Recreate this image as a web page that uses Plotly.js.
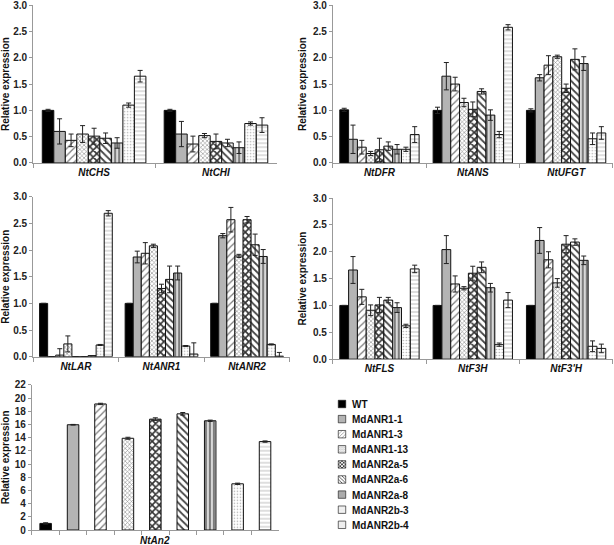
<!DOCTYPE html>
<html>
<head>
<meta charset="utf-8">
<script src="https://cdn.plot.ly/plotly-3.0.1.min.js"></script>
<style>
  html, body { margin: 0; padding: 0; background: #fff; }
  #chart { width: 614px; height: 545px; }
</style>
</head>
<body>
<div id="chart"></div>
<script>
// Genes, in panel order
const genes = ['NtCHS', 'NtCHI', 'NtDFR', 'NtANS', 'NtUFGT', 'NtLAR', 'NtANR1', 'NtANR2', 'NtFLS', 'NtF3H', "NtF3'H", 'NtAn2'];
const seriesNames = ['WT', 'MdANR1-1', 'MdANR1-3', 'MdANR1-13', 'MdANR2a-5', 'MdANR2a-6', 'MdANR2a-8', 'MdANR2b-3', 'MdANR2b-4'];

// relative expression (one value per gene, same order as genes)
const wt        = [1.00, 1.00, 1.01, 1.00, 1.00, 1.00, 1.00, 1.00, 1.00, 1.00, 1.00, 1.00];
const anr1_1    = [0.60, 0.55, 0.45, 1.65, 1.62, 0.00, 1.87, 2.27, 1.66, 2.04, 2.21, 15.95];
const anr1_3    = [0.43, 0.36, 0.30, 1.50, 1.86, 0.03, 1.94, 2.57, 1.16, 1.40, 1.85, 19.10];
const anr1_13   = [0.55, 0.52, 0.18, 1.15, 2.02, 0.24, 2.08, 1.89, 0.91, 1.32, 1.42, 13.90];
const anr2a_5   = [0.51, 0.41, 0.25, 1.02, 1.42, 0.00, 1.28, 2.57, 1.01, 1.60, 2.14, 16.80];
const anr2a_6   = [0.47, 0.38, 0.32, 1.36, 1.97, 0.00, 1.45, 2.10, 1.10, 1.71, 2.18, 17.60];
const anr2a_8   = [0.38, 0.29, 0.26, 0.91, 1.89, 0.02, 1.57, 1.88, 0.96, 1.33, 1.84, 16.55];
const anr2b_3   = [1.10, 0.75, 0.26, 0.54, 0.46, 0.22, 0.20, 0.23, 0.62, 0.27, 0.24, 7.00];
const anr2b_4   = [1.65, 0.72, 0.54, 2.58, 0.57, 2.69, 0.05, 0.01, 1.68, 1.10, 0.20, 13.40];

// error bars (SD)
const wtErr      = [0.02, 0.02, 0.03, 0.06, 0.03, 0, 0, 0, 0, 0, 0, 0.10];
const anr1_1Err  = [0.24, 0.24, 0.27, 0.26, 0.06, 0, 0.11, 0.04, 0.25, 0.26, 0.24, 0.05];
const anr1_3Err  = [0.12, 0.15, 0.13, 0.13, 0.18, 0.12, 0.20, 0.23, 0.14, 0.15, 0.15, 0.10];
const anr1_13Err = [0.16, 0.04, 0.04, 0.08, 0.03, 0.15, 0.03, 0.03, 0.10, 0.03, 0.08, 0.15];
const anr2a_5Err = [0.15, 0.14, 0.22, 0.14, 0.08, 0, 0.08, 0.06, 0.14, 0.13, 0.16, 0.20];
const anr2a_6Err = [0.10, 0.07, 0.08, 0.05, 0.20, 0, 0.25, 0.20, 0.05, 0.10, 0.06, 0.20];
const anr2a_8Err = [0.10, 0.11, 0.09, 0.10, 0.13, 0, 0.13, 0.13, 0.09, 0.08, 0.08, 0.10];
const anr2b_3Err = [0.04, 0.03, 0.04, 0.06, 0.11, 0.01, 0.01, 0.01, 0.03, 0.03, 0.10, 0.10];
const anr2b_4Err = [0.11, 0.14, 0.15, 0.05, 0.12, 0.05, 0.21, 0.07, 0.07, 0.14, 0.08, 0.10];

const values = [wt, anr1_1, anr1_3, anr1_13, anr2a_5, anr2a_6, anr2a_8, anr2b_3, anr2b_4];
const errors = [wtErr, anr1_1Err, anr1_3Err, anr1_13Err, anr2a_5Err, anr2a_6Err, anr2a_8Err, anr2b_3Err, anr2b_4Err];

// fill style per series (black / grey / hatches)
const fills = [
    { color: '#000000' },
    { color: '#b4b4b4' },
    { color: '#ffffff', pattern: { shape: '/', fgcolor: '#7a7a7a', bgcolor: '#ffffff', size: 5, solidity: 0.25, fillmode: 'replace' } },
    { color: '#ffffff', pattern: { shape: 'x', fgcolor: '#8a8a8a', bgcolor: '#ffffff', size: 3, solidity: 0.35, fillmode: 'replace' } },
    { color: '#ffffff', pattern: { shape: 'x', fgcolor: '#333333', bgcolor: '#ffffff', size: 5, solidity: 0.55, fillmode: 'replace' } },
    { color: '#ffffff', pattern: { shape: '\\', fgcolor: '#444444', bgcolor: '#ffffff', size: 5, solidity: 0.35, fillmode: 'replace' } },
    { color: '#ffffff', pattern: { shape: '|', fgcolor: '#666666', bgcolor: '#d8d8d8', size: 4, solidity: 0.4, fillmode: 'replace' } },
    { color: '#ffffff', pattern: { shape: '.', fgcolor: '#b0b0b0', bgcolor: '#ffffff', size: 3, solidity: 0.2, fillmode: 'replace' } },
    { color: '#ffffff', pattern: { shape: '-', fgcolor: '#bdbdbd', bgcolor: '#ffffff', size: 4, solidity: 0.25, fillmode: 'replace' } }
];

// which genes go in which panel
const panels = [
    { genes: [0, 1], ax: '' },
    { genes: [2, 3, 4], ax: '2' },
    { genes: [5, 6, 7], ax: '3' },
    { genes: [8, 9, 10], ax: '4' }
];

const fontFam = 'Liberation Sans, Arial, sans-serif';
const data = [];

panels.forEach((p, pi) => {
    seriesNames.forEach((name, si) => {
        data.push({
            type: 'bar',
            name: name,
            legendgroup: name,
            showlegend: pi === 0,
            x: p.genes.map(g => genes[g]),
            y: p.genes.map(g => values[si][g]),
            error_y: { type: 'data', array: p.genes.map(g => errors[si][g]), color: '#222', thickness: 1, width: 2.5 },
            marker: Object.assign({ line: { color: '#111', width: 1 } }, fills[si]),
            xaxis: 'x' + p.ax,
            yaxis: 'y' + p.ax,
            hoverinfo: 'name+y'
        });
    });
});

// NtAn2 panel: one slot per line
seriesNames.forEach((name, si) => {
    data.push({
        type: 'bar',
        name: name,
        legendgroup: name,
        showlegend: false,
        x: [name],
        y: [values[si][11]],
        width: 0.42,
        offset: -0.21,
        error_y: { type: 'data', array: [errors[si][11]], color: '#222', thickness: 1, width: 2.5 },
        marker: Object.assign({ line: { color: '#111', width: 1 } }, fills[si]),
        xaxis: 'x5',
        yaxis: 'y5',
        hoverinfo: 'name+y'
    });
});

function xAxis(domain, cats, anchor, showLabels) {
    return {
        domain: domain,
        anchor: anchor,
        type: 'category',
        categoryorder: 'array',
        categoryarray: cats,
        tickvals: cats,
        ticktext: cats.map(c => '<i>' + c + '</i>'),
        showticklabels: showLabels,
        tickson: 'boundaries',
        ticks: 'outside',
        ticklen: 4,
        tickcolor: '#999',
        showline: true,
        linecolor: '#999',
        linewidth: 1,
        showgrid: false,
        zeroline: false,
        fixedrange: true,
        automargin: false,
        tickfont: { family: fontFam, size: 10, weight: 'bold', color: '#111' }
    };
}

function yAxis(domain, anchor, range, dtick, fmt) {
    return {
        domain: domain,
        anchor: anchor,
        range: range,
        tick0: 0,
        dtick: dtick,
        tickformat: fmt,
        ticks: 'outside',
        ticklen: 3,
        tickcolor: '#999',
        showline: true,
        linecolor: '#999',
        linewidth: 1,
        showgrid: false,
        zeroline: false,
        fixedrange: true,
        automargin: false,
        ticklabeloverflow: 'allow',
        tickfont: { family: fontFam, size: 10, weight: 'bold', color: '#222' },
        title: { text: 'Relative expression', font: { family: fontFam, size: 10, weight: 'bold', color: '#111' }, standoff: 4 }
    };
}

const layout = {
    width: 614,
    height: 545,
    margin: { l: 0, r: 0, t: 0, b: 0, autoexpand: false },
    paper_bgcolor: '#fff',
    plot_bgcolor: '#fff',
    font: { family: fontFam, size: 10, weight: 'bold', color: '#111' },
    barmode: 'group',
    bargap: 0.15,
    bargroupgap: 0,
    xaxis:  xAxis([0.054, 0.451], panels[0].genes.map(g => genes[g]), 'y', true),
    yaxis:  yAxis([0.701, 0.9905], 'x', [0, 3.0005], 0.5, '.1f'),
    xaxis2: xAxis([0.542, 0.998], panels[1].genes.map(g => genes[g]), 'y2', true),
    yaxis2: yAxis([0.701, 0.9905], 'x2', [0, 3.0005], 0.5, '.1f'),
    xaxis3: xAxis([0.054, 0.472], panels[2].genes.map(g => genes[g]), 'y3', true),
    yaxis3: yAxis([0.3455, 0.639], 'x3', [0, 3.0005], 0.5, '.1f'),
    xaxis4: xAxis([0.542, 0.998], panels[3].genes.map(g => genes[g]), 'y4', true),
    yaxis4: yAxis([0.341, 0.6367], 'x4', [0, 3.0005], 0.5, '.1f'),
    xaxis5: xAxis([0.052, 0.454], seriesNames, 'y5', false),
    yaxis5: yAxis([0.0275, 0.294], 'x5', [0, 22.005], 2, 'd'),
    annotations: [{
        text: '<i>' + genes[11] + '</i>',
        xref: 'paper', yref: 'paper',
        x: 0.253, y: 0.009,
        xanchor: 'center', yanchor: 'middle',
        showarrow: false,
        font: { family: fontFam, size: 10, weight: 'bold', color: '#111' }
    }],
    legend: {
        x: 0.515, y: 0.345,
        xanchor: 'left', yanchor: 'top',
        bgcolor: 'rgba(0,0,0,0)',
        font: { family: fontFam, size: 10, weight: 'bold', color: '#111' },
        tracegroupgap: 0,
        itemclick: false,
        itemdoubleclick: false
    },
    showlegend: true
};

const gd = document.getElementById('chart');
Plotly.newPlot(gd, data, layout, { displayModeBar: false, staticPlot: true }).then(() => {
    // tighten the legend: 15px rows, smaller keys, like the figure
    const leg = gd.querySelector('.legend');
    if (!leg) return;
    leg.setAttribute('transform', 'translate(312, 392)');
    gd.querySelectorAll('.legend .traces').forEach((el, i) => {
        el.setAttribute('transform', 'translate(0,' + (12 + i * 15.1) + ')');
    });
    gd.querySelectorAll('.legend .legendpoints path').forEach(p => {
        const tr = p.getAttribute('transform') || '';
        p.setAttribute('transform', 'translate(10,0) ' + tr + ' scale(0.62)');
    });
});
</script>
</body>
</html>
